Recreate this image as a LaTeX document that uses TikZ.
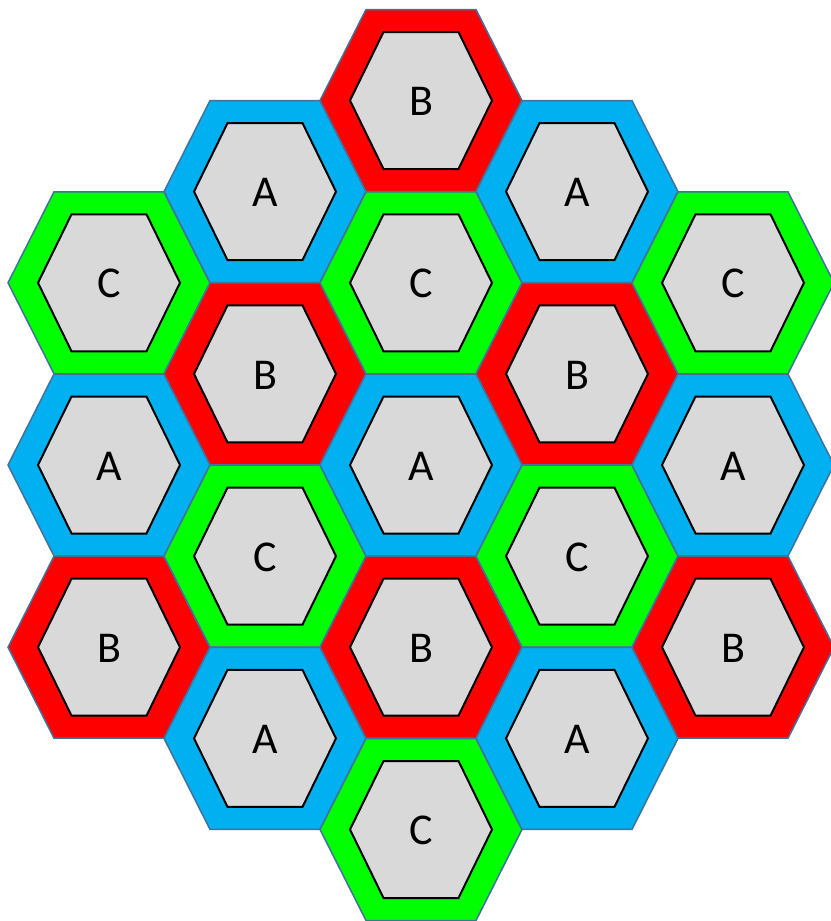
\documentclass[tikz,border=0pt]{standalone}
\usepackage{fontspec}
\setmainfont{Carlito}
\definecolor{cA}{HTML}{00B0F0}
\definecolor{cB}{HTML}{FF0000}
\definecolor{cC}{HTML}{00FF00}
\definecolor{rimline}{HTML}{41719C}
\definecolor{core}{HTML}{D9D9D9}
\tikzset{
  outerhex/.style={draw=rimline, line width=1.5pt, line join=miter},
  innerhex/.style={draw=black, line width=2pt, fill=core, line join=miter},
  celllabel/.style={font=\fontsize{44}{50}\selectfont, text=black, inner sep=0pt}
}
% name, x, y, letter
\newcommand\hexcell[4]{%
  \path[outerhex, fill=c#4] ({#2-101},{#3}) -- ({#2-55},{#3-91}) -- ({#2+55},{#3-91})
    -- ({#2+101},{#3}) -- ({#2+55},{#3+91}) -- ({#2-55},{#3+91}) -- cycle;
  \path[innerhex] ({#2-71},{#3}) -- ({#2-37.5},{#3-68.5}) -- ({#2+37.5},{#3-68.5})
    -- ({#2+71},{#3}) -- ({#2+37.5},{#3+68.5}) -- ({#2-37.5},{#3+68.5}) -- cycle;
  \node[celllabel] (#1) at ({#2},{#3+1}) {#4};
}
\begin{document}
\begin{tikzpicture}[x=1pt, y=-1pt]
\useasboundingbox (0,0) rectangle (830,921);
% column 0
\hexcell{c0a}{109}{282.8}{C}
\hexcell{c0b}{109}{465}{A}
\hexcell{c0c}{109}{647.2}{B}
% column 1
\hexcell{c1a}{265}{191.6}{A}
\hexcell{c1b}{265}{373.9}{B}
\hexcell{c1c}{265}{556.1}{C}
\hexcell{c1d}{265}{738.4}{A}
% column 2
\hexcell{c2a}{421}{100.5}{B}
\hexcell{c2b}{421}{282.8}{C}
\hexcell{c2c}{421}{465}{A}
\hexcell{c2d}{421}{647.2}{B}
\hexcell{c2e}{421}{829.5}{C}
% column 3
\hexcell{c3a}{577}{191.6}{A}
\hexcell{c3b}{577}{373.9}{B}
\hexcell{c3c}{577}{556.1}{C}
\hexcell{c3d}{577}{738.4}{A}
% column 4
\hexcell{c4a}{733}{282.8}{C}
\hexcell{c4b}{733}{465}{A}
\hexcell{c4c}{733}{647.2}{B}
\end{tikzpicture}
\end{document}
